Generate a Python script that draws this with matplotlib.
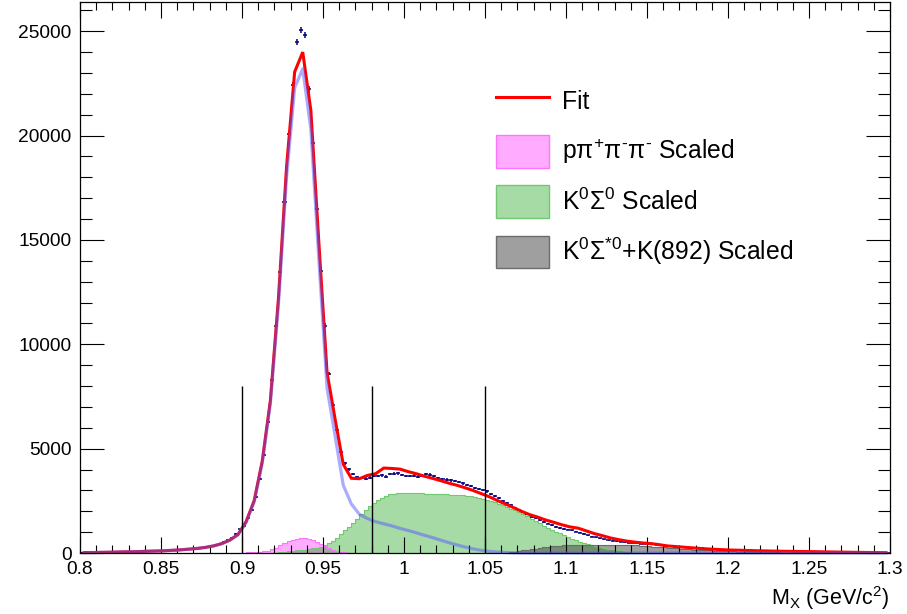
import numpy as np
import matplotlib
matplotlib.use("Agg")
import matplotlib.pyplot as plt
from matplotlib.patches import Patch
from matplotlib.lines import Line2D
from matplotlib.ticker import MultipleLocator

plt.rcParams['font.family'] = ['Liberation Sans', 'DejaVu Sans']
plt.rcParams['mathtext.default'] = 'regular'
plt.rcParams['mathtext.fontset'] = 'custom'
plt.rcParams['mathtext.rm'] = 'Liberation Sans'

# ---- missing-mass spectrum (0.0025 GeV bins starting at 0.80) ----
BIN = 0.0025
data_lo = 0.80
data_counts = [
    20, 25, 25, 30, 30, 35, 40, 40, 45, 50, 55, 55, 60, 65, 70, 75, 80, 90, 95, 100,
    105, 115, 125, 140, 150, 160, 175, 195, 210, 230, 255, 285, 320, 360, 420, 510, 620, 740, 910, 1135,
    1310, 1695, 2063, 2700, 3536, 4700, 6285, 8300, 10900, 13470,
    16810, 20090, 22400, 24490, 25050, 24820, 22250, 19660, 16490, 13500,
    10900, 8600, 7100, 5870, 4860, 4300, 4015, 3790, 3640, 3600,
    3560, 3610, 3680, 3700, 3720, 3660, 3775, 3800, 3820, 3740,
    3690, 3700, 3710, 3660, 3710, 3775, 3760, 3690, 3590, 3540,
    3520, 3480, 3450, 3400, 3330, 3250, 3200, 3110, 3060, 3010,
    2950, 2820, 2720, 2620, 2500, 2400, 2290, 2180, 2070, 1960,
    1860, 1740, 1660, 1570, 1490, 1410, 1330, 1250, 1200, 1160,
    1120, 1080, 1020, 970, 910, 850, 790, 750, 700, 660,
    620, 590, 560, 535, 515, 495, 480, 465, 450, 435,
    425, 410, 390, 370, 350, 335, 320, 305, 290, 275,
    260, 245, 230, 220, 205, 195, 185, 175, 165, 155,
    150, 145, 140, 130, 125, 120, 115, 110, 105, 100,
    95, 90, 88, 85, 80, 78, 75, 72, 70, 68,
    65, 62, 60, 55, 52, 50, 46, 43, 40, 37,
    34, 31, 28, 26, 24, 22, 20, 18, 16, 15,
]

# ---- total fit and signal template (sampled every 0.005 GeV from 0.8025) ----
FIT_STEP = 0.005
fit_lo = 0.8025
fit_total = [
    15, 20, 30, 35, 45, 55, 60, 70, 85, 95,
    110, 130, 155, 185, 220, 270, 340, 450, 620, 880,
    1500, 2500, 4400, 7300, 12200, 18500, 23050, 24000, 21200, 14800,
    8650, 6400, 4250, 3580, 3560, 3720, 3800, 4070, 4050, 4020,
    3900, 3800, 3680, 3580, 3470, 3350, 3250, 3130, 3000, 2850,
    2700, 2520, 2350, 2180, 2000, 1840, 1720, 1580, 1470, 1350,
    1250, 1190, 1060, 930, 830, 720, 640, 570, 520, 480,
    450, 400, 340, 310, 280, 250, 220, 195, 175, 155,
    140, 130, 120, 110, 100, 92, 85, 80, 75, 70,
    65, 58, 52, 45, 40, 34, 28, 24, 20, 16,
]
signal = [
    15, 20, 30, 35, 45, 55, 60, 70, 85, 95,
    110, 130, 155, 185, 220, 270, 340, 450, 620, 880,
    1450, 2450, 4300, 7150, 11900, 18000, 22300, 23200, 20300, 14000,
    7900, 5600, 3250, 2350, 1850, 1650, 1500, 1400, 1300, 1180,
    1080, 970, 850, 740, 620, 500, 390, 290, 200, 130,
    80, 50, 25, 10, 0, 0, 0, 0, 0, 0,
    0, 0, 0, 0, 0, 0, 0, 0, 0, 0,
    0, 0, 0, 0, 0, 0, 0, 0, 0, 0,
    0, 0, 0, 0, 0, 0, 0, 0, 0, 0,
    0, 0, 0, 0, 0, 0, 0, 0, 0, 0,
]

# ---- scaled background templates (0.0025 GeV bins) ----
ppp_lo = 0.900
ppp_counts = [
    20, 30, 40, 55, 70, 90, 115, 180, 260, 370,
    460, 560, 640, 690, 710, 700, 680, 640, 540, 440,
    320, 220, 140, 90, 60, 40, 20, 10,
]
k0s0_lo = 0.920
k0s0_counts = [
    20, 40, 60, 80, 100, 120, 140, 165, 190, 220,
    250, 300, 380, 470, 590, 730, 900, 1080, 1260, 1450,
    1650, 1850, 2050, 2250, 2400, 2520, 2650, 2750, 2820, 2850,
    2870, 2870, 2880, 2870, 2870, 2860, 2860, 2850, 2850, 2840,
    2830, 2820, 2810, 2800, 2790, 2780, 2770, 2740, 2710, 2680,
    2640, 2590, 2540, 2480, 2420, 2350, 2280, 2210, 2130, 2050,
    1950, 1850, 1750, 1650, 1530, 1420, 1300, 1200, 1120, 1030,
    940, 850, 770, 690, 620, 550, 490, 430, 380, 330,
    290, 250, 215, 180, 150, 125, 100, 80, 65, 50,
    40, 30, 22, 15, 10, 5,
]
k0ss_lo = 1.060
k0ss_counts = [
    10, 20, 40, 60, 90, 120, 150, 180, 210, 240,
    270, 295, 320, 340, 355, 370, 380, 390, 395, 400,
    400, 400, 400, 400, 400, 400, 395, 395, 390, 390,
    385, 380, 370, 360, 350, 340, 325, 310, 295, 280,
    265, 250, 235, 220, 205, 190, 175, 160, 150, 140,
    130, 120, 110, 100, 92, 85, 78, 72, 66, 60,
    55, 50, 46, 42, 38, 35, 32, 29, 26, 23,
    20, 18, 16, 14, 12, 10, 8, 6, 4, 2,
]

cut_positions = [0.90, 0.98, 1.05]
cut_height = 8000

labels = {
    "fit": "Fit",
    "ppp": r"p$π^{+}π^{\text{-}}π^{\text{-}}$ Scaled",
    "k0s0": r"K$^{0}$Σ$^{0}$ Scaled",
    "k0ss": r"K$^{0}$Σ$^{*0}$+K(892) Scaled",
}

# colours
c_ppp_face = (1.0, 0.0, 1.0, 0.33)
c_ppp_edge = (1.0, 0.45, 1.0)
c_k0s0_face = (0.0, 0.6, 0.0, 0.35)
c_k0s0_edge = (0.45, 0.78, 0.45)
c_k0ss_face = (0.25, 0.25, 0.25, 0.5)
c_k0ss_edge = (0.42, 0.42, 0.42)
c_signal = (0.35, 0.35, 1.0, 0.5)
c_fit = (1.0, 0.0, 0.0)
c_data = "#000080"


def edges(lo, n):
    return lo + BIN * np.arange(n + 1)


fig = plt.figure(figsize=(9.07, 6.14), dpi=100)
ax = fig.add_axes([80 / 907, 61 / 614, 810 / 907, 551 / 614])

# overlaid template histograms
for lo, vals, face, edge in [
    (ppp_lo, ppp_counts, c_ppp_face, c_ppp_edge),
    (k0s0_lo, k0s0_counts, c_k0s0_face, c_k0s0_edge),
    (k0ss_lo, k0ss_counts, c_k0ss_face, c_k0ss_edge),
]:
    e = edges(lo, len(vals))
    ax.stairs(vals, e, fill=True, color=face, linewidth=0, zorder=1)
    ax.stairs(vals, e, fill=False, color=edge, linewidth=0.8, zorder=1.1)

# data with statistical errors
d = np.asarray(data_counts, dtype=float)
xc = data_lo + BIN * (np.arange(len(d)) + 0.5)
ax.errorbar(xc, d, xerr=BIN / 2, yerr=np.sqrt(d), fmt="none",
            ecolor=c_data, elinewidth=1.1, capsize=0, zorder=2)

# total fit, then signal template on top
fx = fit_lo + FIT_STEP * np.arange(len(fit_total))
ax.plot(fx, fit_total, color=c_fit, linewidth=2.2, zorder=3,
        solid_joinstyle="miter")
ax.plot(fx, signal, color=c_signal, linewidth=2.3, zorder=4, clip_on=False)

# selection cut markers
ax.vlines(cut_positions, 0, cut_height, colors="black", linewidth=1.0, zorder=5)

ax.set_xlim(0.8, 1.3)
ax.set_ylim(0, 26400)

ax.xaxis.set_major_locator(MultipleLocator(0.05))
ax.xaxis.set_minor_locator(MultipleLocator(0.01))
ax.yaxis.set_major_locator(MultipleLocator(5000))
ax.yaxis.set_minor_locator(MultipleLocator(1000))

ax.tick_params(axis="both", which="both", direction="in", top=True, right=True,
               width=0.8, colors="black", labelsize=13.8)
ax.tick_params(axis="x", which="major", length=11.5, pad=6)
ax.tick_params(axis="x", which="minor", length=5.8)
ax.tick_params(axis="y", which="major", length=17.3, pad=6)
ax.tick_params(axis="y", which="minor", length=8.6)

ax.xaxis.set_major_formatter(plt.FuncFormatter(lambda v, p: f"{v:g}"))
for s in ax.spines.values():
    s.set_linewidth(0.9)
    s.set_zorder(6)

ax.set_xlabel(r"M$_{X}$ (GeV/c$^{2}$)", loc="right", fontsize=15.5, labelpad=4)

handles = [
    Line2D([], [], color=c_fit, linewidth=2.2),
    Patch(facecolor=c_ppp_face, edgecolor=c_ppp_edge, linewidth=1),
    Patch(facecolor=c_k0s0_face, edgecolor=c_k0s0_edge, linewidth=1),
    Patch(facecolor=c_k0ss_face, edgecolor=c_k0ss_edge, linewidth=1),
]
fig.legend(handles, [labels["fit"], labels["ppp"], labels["k0s0"], labels["k0ss"]],
           loc="upper left", bbox_to_anchor=(496 / 907, 1 - 85 / 614),
           frameon=False, fontsize=17.8, handlelength=2.15, handleheight=1.64,
           labelspacing=0.72, handletextpad=0.5, borderpad=0, borderaxespad=0)

fig.savefig("out.png", dpi=100)
